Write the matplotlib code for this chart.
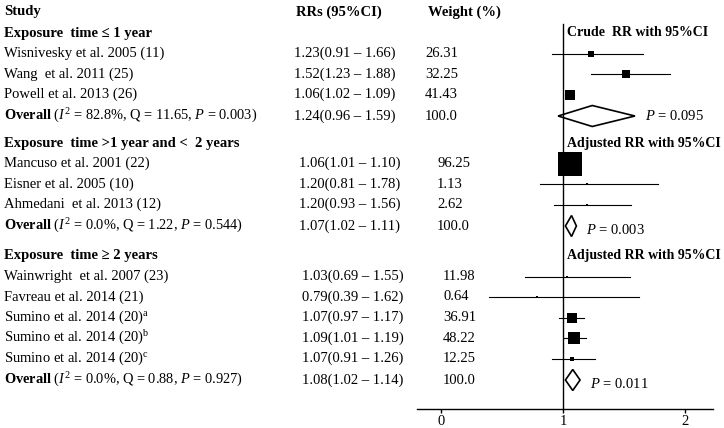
import matplotlib
matplotlib.use("Agg")
import matplotlib.pyplot as plt
from matplotlib.patches import Polygon
from matplotlib.transforms import blended_transform_factory

plt.rcParams['font.family'] = ['Liberation Serif', 'DejaVu Serif']
plt.rcParams['mathtext.fontset'] = 'custom'
plt.rcParams['mathtext.rm'] = 'Liberation Serif'
plt.rcParams['mathtext.it'] = 'Liberation Serif:italic'
plt.rcParams['mathtext.bf'] = 'Liberation Serif:bold'

# ---------------- data ----------------
group_titles = ["Exposure  time \u2264 1 year",
                "Exposure  time >1 year and <  2 years",
                "Exposure  time \u2265 2 years"]
panel_titles = ["Crude  RR with 95%CI", "Adjusted RR with 95%CI", "Adjusted RR with 95%CI"]

g1_studies = ["Wisnivesky et al. 2005 (11)", "Wang  et al. 2011 (25)", "Powell et al. 2013 (26)"]
g1_rr = [1.23, 1.52, 1.06]
g1_lo = [0.91, 1.23, 1.02]
g1_hi = [1.66, 1.88, 1.09]
g1_w = [26.31, 32.25, 41.43]

g2_studies = ["Mancuso et al. 2001 (22)", "Eisner et al. 2005 (10)", "Ahmedani  et al. 2013 (12)"]
g2_rr = [1.06, 1.20, 1.20]
g2_lo = [1.01, 0.81, 0.93]
g2_hi = [1.10, 1.78, 1.56]
g2_w = [96.25, 1.13, 2.62]

g3_studies = ["Wainwright  et al. 2007 (23)", "Favreau et al. 2014 (21)",
              "Sumino et al. 2014 (20)$^{\\rm a}$", "Sumino et al. 2014 (20)$^{\\rm b}$",
              "Sumino et al. 2014 (20)$^{\\rm c}$"]
g3_rr = [1.03, 0.79, 1.07, 1.09, 1.07]
g3_lo = [0.69, 0.39, 0.97, 1.01, 0.91]
g3_hi = [1.55, 1.62, 1.17, 1.19, 1.26]
g3_w = [11.98, 0.64, 36.91, 48.22, 12.25]

overall_rr = [1.24, 1.07, 1.08]
overall_lo = [0.96, 1.02, 1.02]
overall_hi = [1.59, 1.11, 1.14]
overall_I2 = ["82.8%", "0.0%", "0.0%"]
overall_Q = ["11.65", "1.22", "0.88"]
overall_P = ["0.003", "0.544", "0.927"]
test_P = ["0.095", "0.003", "0.011"]

x_ticks = [0, 1, 2]

groups = [
    (g1_studies, g1_rr, g1_lo, g1_hi, g1_w),
    (g2_studies, g2_rr, g2_lo, g2_hi, g2_w),
    (g3_studies, g3_rr, g3_lo, g3_hi, g3_w),
]

# ---------------- layout (pixels) ----------------
W, H = 724, 428
fig = plt.figure(figsize=(W / 100, H / 100), dpi=100)
ax_left, ax_right, ax_base = 417, 713, 409
ax = fig.add_axes([ax_left / W, (H - ax_base) / H, (ax_right - ax_left) / W, ax_base / H])
ax.set_xlim(-0.197, 2.23)
ax.set_ylim(ax_base, 0)
for s in ['top', 'right', 'left']:
    ax.spines[s].set_visible(False)
ax.spines['bottom'].set_linewidth(1.0)
ax.set_yticks([])
ax.set_xticks(x_ticks)
ax.set_xticklabels([str(t) for t in x_ticks])
ax.tick_params(axis='x', direction='out', length=3, width=1.0, labelsize=10.5, pad=1.5)

tr = blended_transform_factory(fig.transFigure, ax.transData)
fs = 10.5

def fx(px):
    return px / W

header_y = [33, 143, 256]
step = 20.5
rr_x = [294, 299, 302]
w_x = [425, 437, 443]

fig.text(fx(4), 1 - 12 / H, "Study", fontsize=fs, fontweight='bold', va='center')
fig.text(fx(296), 1 - 12 / H, "RRs (95%CI)", fontsize=fs, fontweight='bold', va='center')
fig.text(fx(428), 1 - 12 / H, "Weight (%)", fontsize=fs, fontweight='bold', va='center')

ax.plot([1, 1], [24, ax_base], color='black', lw=1.0, clip_on=False)

for gi, (names, rr, lo, hi, w) in enumerate(groups):
    hy = header_y[gi]
    ax.text(fx(4), hy, group_titles[gi], transform=tr, fontsize=fs, fontweight='bold', va='center')
    ax.text(1.033, hy, panel_titles[gi], fontsize=10, fontweight='bold', va='center', clip_on=False)
    y = hy
    for name, r, l, h, wt in zip(names, rr, lo, hi, w):
        y += step
        ax.text(fx(4), y, name, transform=tr, fontsize=fs, va='center')
        ax.text(fx(rr_x[gi]), y, f"{r:.2f}({l:.2f} \u2013 {h:.2f})", transform=tr, fontsize=fs, va='center')
        ax.text(fx(w_x[gi]), y, f"{wt:.2f}", transform=tr, fontsize=fs, va='center')
        ax.plot([l, h], [y, y], color='black', lw=0.8, clip_on=False)
        side_pt = max(0.25 * wt, 2.5) * 0.72
        ax.plot([r], [y], marker='s', color='black', markersize=side_pt, markeredgewidth=0, clip_on=False)
    y += step + 1
    ax.text(fx(4), y,
            f"$\\bf{{Overall}}$ ($\\it{{I}}^2$ = {overall_I2[gi]}, Q = {overall_Q[gi]}, $\\it{{P}}$ = {overall_P[gi]})",
            transform=tr, fontsize=10.4, va='center')
    ax.text(fx(rr_x[gi]), y, f"{overall_rr[gi]:.2f}({overall_lo[gi]:.2f} \u2013 {overall_hi[gi]:.2f})",
            transform=tr, fontsize=fs, va='center')
    ax.text(fx(w_x[gi]), y, "100.0", transform=tr, fontsize=fs, va='center')
    dh = 10.5
    poly = Polygon([[overall_lo[gi], y], [overall_rr[gi], y - dh], [overall_hi[gi], y],
                    [overall_rr[gi], y + dh]], closed=True, facecolor='white', edgecolor='black',
                   lw=1.2, clip_on=False)
    ax.add_patch(poly)
    ax.annotate(f"$\\it{{P}}$ = {test_P[gi]}", xy=(overall_hi[gi], y), xytext=(7, -3 if gi else 0),
                textcoords='offset points', fontsize=fs, va='center', ha='left', annotation_clip=False)

fig.savefig("out.png", dpi=100)
